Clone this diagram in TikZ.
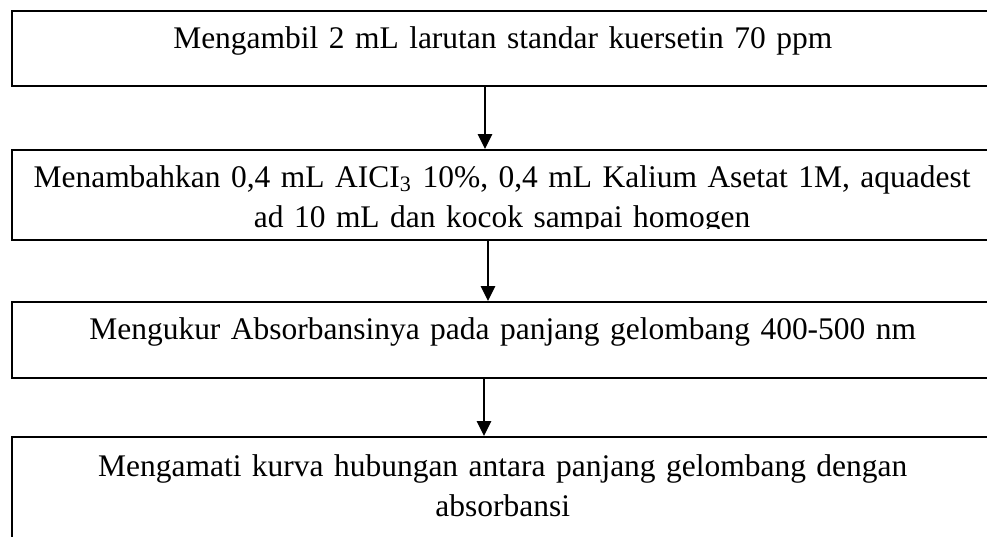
\documentclass[tikz,border=0pt]{standalone}
\usepackage{fontspec}
\setmainfont{Liberation Serif}
\usepackage{tikz}
\usetikzlibrary{arrows.meta}
\tikzstyle{steptext} = [inner sep=0pt, text width=367.9pt, align=center, anchor=north west, font={\fontsize{11.8pt}{15pt}\selectfont}]
\tikzstyle{stepbox} = [steptext, draw, line width=0.9pt]
\tikzstyle{flow} = [line width=0.5pt, -{Triangle[length=5.6pt, width=5.4pt]}]

\begin{document}
\begin{tikzpicture}[x=0.375pt, y=-0.375pt]
        \useasboundingbox (0,0) rectangle (987,536);
        \clip (0,0) rectangle (987,536);
        \node[stepbox, text height=13.9pt, text depth=14.25pt](s1) at (11,10){Mengambil 2 mL larutan standar kuersetin 70 ppm};
        \node[stepbox, text height=14.1pt, text depth=19.6pt](s2) at (11,149){};
        \begin{scope}
          \clip (0,140) rectangle (987,228);
          \node[steptext, text height=14.1pt, text depth=19.6pt](s2text) at (11,149){Menambahkan 0,4 mL AICI\textsubscript{3} 10\%, 0,4 mL Kalium Asetat 1M, aquadest\\ad 10 mL dan kocok sampai homogen};
        \end{scope}
        \node[stepbox, text height=13.9pt, text depth=14.6pt](s3) at (11,301){Mengukur Absorbansinya pada panjang gelombang 400-500 nm};
        \node[stepbox, text height=14.6pt, text depth=35.6pt](s4) at (11,436){Mengamati kurva hubungan antara panjang gelombang dengan\\absorbansi};
        \draw[flow](s1.south -| 485,0)--(s2.north -| 485,0);
        \draw[flow](s2.south -| 488,0)--(s3.north -| 488,0);
        \draw[flow](s3.south -| 484,0)--(s4.north -| 484,0);
      \end{tikzpicture}
\end{document}
